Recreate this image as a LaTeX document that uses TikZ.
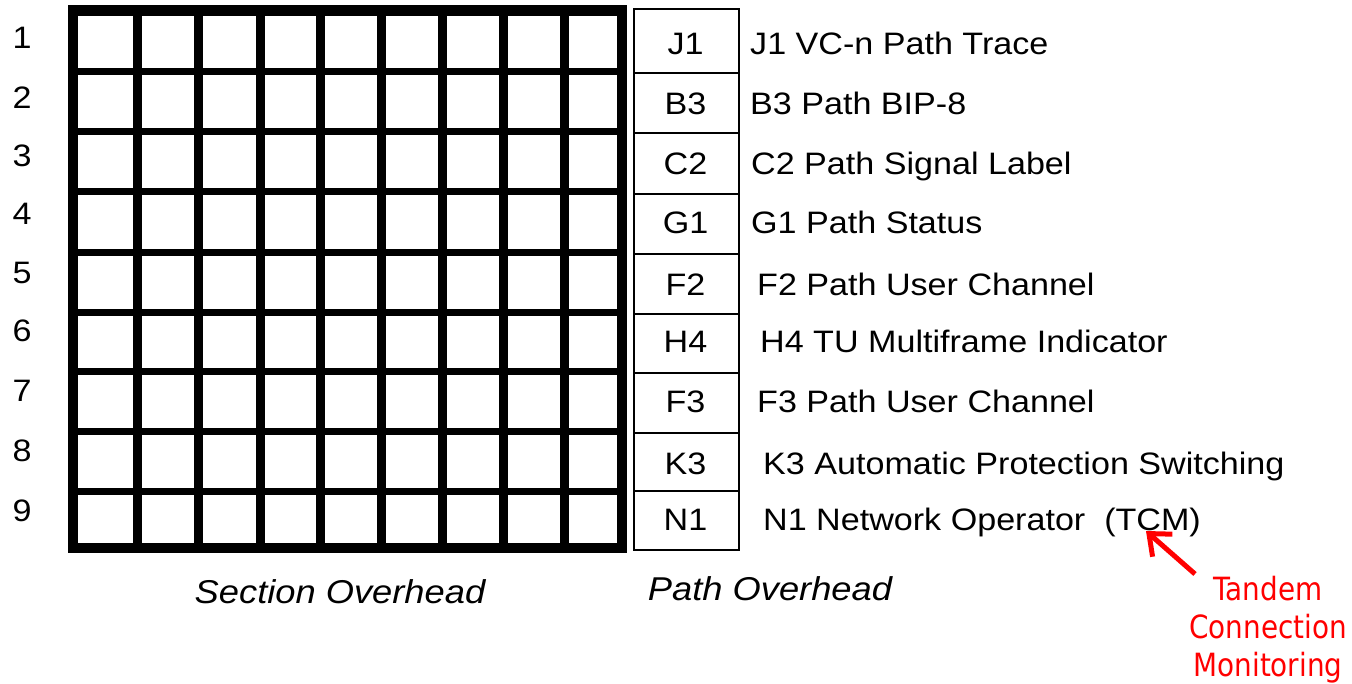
\documentclass[tikz,border=0pt]{standalone}
\usepackage{fontspec}
\setmainfont{Liberation Sans}[FakeStretch=1.1]
\newfontfamily\redfont{DejaVu Sans}[FakeStretch=0.87]
\usetikzlibrary{arrows.meta}
\begin{document}
\begin{tikzpicture}[x=1pt,y=-1pt,
  lbl/.style={inner sep=0pt,font=\fontsize{31}{37}\selectfont},
  captext/.style={inner sep=0pt,font=\fontsize{33}{39}\selectfont\itshape},
  pbox/.style={draw,line width=2pt,minimum width=105pt,inner sep=0pt,anchor=north west},
  note/.style={inner sep=0pt,text=red,align=center,font=\fontsize{32}{38}\selectfont\redfont}]
\useasboundingbox (0,0) rectangle (1352,683);
% Section overhead grid
\foreach \x in {137,198,260,320,381,442,503,564}
  \draw[line width=9pt] (\x,10.5) -- (\x,548);
\foreach \y in {71,131,191.5,252,312,371.5,431,491}
  \draw[line width=7pt] (73,\y) -- (622,\y);
\draw[line width=10.5pt,line join=miter] (73,10.5) rectangle (622,548);
% row numbers
\foreach \n/\b in {1/48,2/108,3/166,4/224,5/283,6/341,7/401,8/461,9/521}
  \node[lbl,anchor=base] (r\n) at (22,\b) {\n};
% path overhead column
\foreach \c/\t/\h/\b/\dx/\desc in {
  J1/8/64/54/750/{J1 VC-n Path Trace},
  B3/72/60/114/750/{B3 Path BIP-8},
  C2/132/61/174/751/{C2 Path Signal Label},
  G1/193/60/233/751/{G1 Path Status},
  F2/253/60/295/757/{F2 Path User Channel},
  H4/313/59/352/760/{H4 TU Multiframe Indicator},
  F3/372/60/412/757/{F3 Path User Channel},
  K3/432/58/474/763/{K3 Automatic Protection Switching},
  N1/490/59/530/763/{N1 Network Operator\ \ (TCM)}}{
  \node[pbox,minimum height=\h pt] (b\c) at (633,\t) {};
  \node[lbl,anchor=base] (c\c) at (685.5,\b) {\c};
  \node[lbl,anchor=base west] (d\c) at (\dx,\b) {\desc};
}
\node[captext,anchor=base] (so) at (340,603) {Section Overhead};
\node[captext,anchor=base] (po) at (770,600) {Path Overhead};
% red annotation
\node[note,anchor=north] (tcm) at (1268,576) {Tandem\\Connection\\Monitoring};
\coordinate (arrtail) at (1195,574);
\coordinate (arrtip) at (1146,531);
\draw[red,line width=5pt,-{Straight Barb[length=18pt,width=30pt]}] (arrtail) -- (arrtip);
\end{tikzpicture}
\end{document}
